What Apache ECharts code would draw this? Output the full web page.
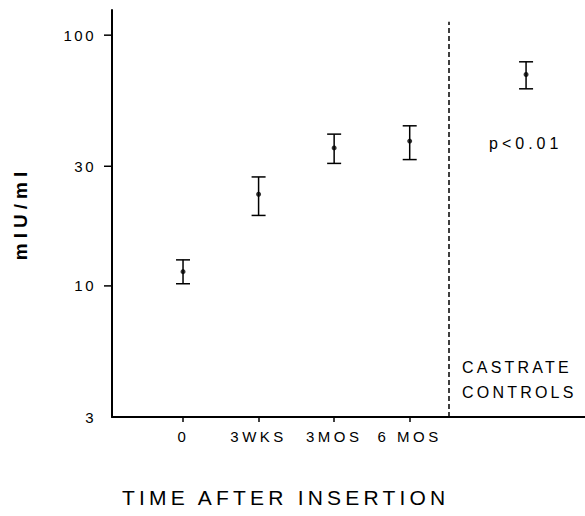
<!DOCTYPE html>
<html>
<head>
<meta charset="utf-8">
<script src="https://cdn.jsdelivr.net/npm/echarts@6/dist/echarts.min.js"></script>
<style>
  html, body { margin: 0; padding: 0; background: #fff; }
  #chart { width: 585px; height: 516px; }
  #chart svg text { letter-spacing: 2.5px; }
</style>
</head>
<body>
<div id="chart"></div>
<script>
// ---- data ----
const xPositions = [0, 1, 2, 3, 4.54];
const xTickValues = [0, 1, 2, 3];
const xTickLabels = ['0', '3WKS', '3MOS', '6 MOS'];
const means = [11.4, 23.2, 35.5, 37.8, 69.7];
const upper = [12.7, 27.2, 40.3, 43.5, 78.3];
const lower = [10.2, 19.1, 30.8, 31.9, 61.1];
const yLabelValues = [3, 10, 30, 100];
const yTickValues = [10, 30, 100];
const dividerX = 3.52;
const annotation = 'p<0.01';
const groupLabel = ['CASTRATE', 'CONTROLS'];
const xTitle = 'TIME AFTER INSERTION';
const yTitle = 'mIU/ml';

const X_MIN = -0.94, X_MAX = 5.32;
const font = '"Liberation Sans", Arial, sans-serif';
const chart = echarts.init(document.getElementById('chart'), null, { renderer: 'svg' });

const errData = xPositions.map((x, i) => [x, lower[i], upper[i]]);
const ptData = xPositions.map((x, i) => [x, means[i]]);
const yTickData = yTickValues.map(v => [X_MIN, v]);

chart.setOption({
  animation: false,
  backgroundColor: '#fff',
  grid: { left: 112, right: 0, top: 10, bottom: 99 },
  xAxis: {
    type: 'value', min: X_MIN, max: X_MAX,
    splitLine: { show: false },
    axisLine: { show: true, onZero: false, lineStyle: { color: '#000', width: 2 } },
    axisTick: { show: true, customValues: xTickValues, length: 5, lineStyle: { color: '#000', width: 1.5 } },
    axisLabel: {
      customValues: xTickValues, margin: 12,
      formatter: v => xTickLabels[xTickValues.indexOf(v)] ?? '',
      color: '#000', fontFamily: font, fontSize: 15
    }
  },
  yAxis: {
    type: 'log', logBase: 10, min: 3, max: 126,
    name: yTitle, nameLocation: 'middle', nameGap: 82, nameRotate: 90,
    nameTextStyle: { color: '#000', fontFamily: font, fontSize: 19, fontWeight: 'bold' },
    splitLine: { show: false },
    axisLine: { show: true, onZero: false, lineStyle: { color: '#000', width: 2 } },
    axisTick: { show: false },
    axisLabel: { customValues: yLabelValues, margin: 16, color: '#000', fontFamily: font, fontSize: 15 }
  },
  graphic: [
    { type: 'text', left: 489, top: 135, style: { text: annotation, fill: '#000', font: '16px ' + font } },
    { type: 'text', left: 462, top: 359, style: { text: groupLabel[0], fill: '#000', font: '16px ' + font } },
    { type: 'text', left: 462, top: 384, style: { text: groupLabel[1], fill: '#000', font: '16px ' + font } },
    { type: 'text', left: 122, top: 487, style: { text: xTitle, fill: '#000', font: '21px ' + font } }
  ],
  series: [
    {
      // y-axis tick marks at 10, 30, 100 (placed through the axis scale)
      type: 'custom',
      data: yTickData,
      clip: false,
      silent: true,
      renderItem: function (params, api) {
        const p = api.coord([api.value(0), api.value(1)]);
        return {
          type: 'line',
          shape: { x1: p[0] - 8, y1: p[1], x2: p[0], y2: p[1] },
          style: { stroke: '#000', lineWidth: 1.5 }
        };
      },
      z: 1
    },
    {
      type: 'custom',
      data: errData,
      renderItem: function (params, api) {
        const x = api.value(0);
        const lo = api.coord([x, api.value(1)]);
        const hi = api.coord([x, api.value(2)]);
        const w = 7;
        const st = { stroke: '#000', lineWidth: 1.5 };
        return {
          type: 'group',
          children: [
            { type: 'line', shape: { x1: lo[0], y1: lo[1], x2: hi[0], y2: hi[1] }, style: st },
            { type: 'line', shape: { x1: lo[0] - w, y1: lo[1], x2: lo[0] + w, y2: lo[1] }, style: st },
            { type: 'line', shape: { x1: hi[0] - w, y1: hi[1], x2: hi[0] + w, y2: hi[1] }, style: st }
          ]
        };
      },
      z: 2
    },
    {
      type: 'scatter',
      data: ptData,
      symbol: 'circle', symbolSize: 5,
      itemStyle: { color: '#000' },
      z: 3,
      markLine: {
        silent: true, symbol: 'none',
        label: { show: false },
        lineStyle: { color: '#000', type: [5, 3], width: 1.5 },
        data: [[{ coord: [dividerX, 3] }, { coord: [dividerX, 113] }]]
      }
    }
  ]
});

// per-text letter spacing (spaced lettering of the original)
const spacing = {};
spacing[xTitle] = 4.2;
spacing[annotation] = 4;
spacing[groupLabel[0]] = 3.2;
spacing[groupLabel[1]] = 3.2;
spacing[yTitle] = 5;
xTickLabels.forEach(t => { if (t.length > 1) spacing[t] = 3.5; });
function applySpacing() {
  document.querySelectorAll('#chart svg text').forEach(el => {
    const t = el.textContent;
    if (spacing[t] != null) el.style.letterSpacing = spacing[t] + 'px';
  });
}
chart.on('finished', applySpacing);
applySpacing();
setTimeout(applySpacing, 0);
</script>
</body>
</html>
